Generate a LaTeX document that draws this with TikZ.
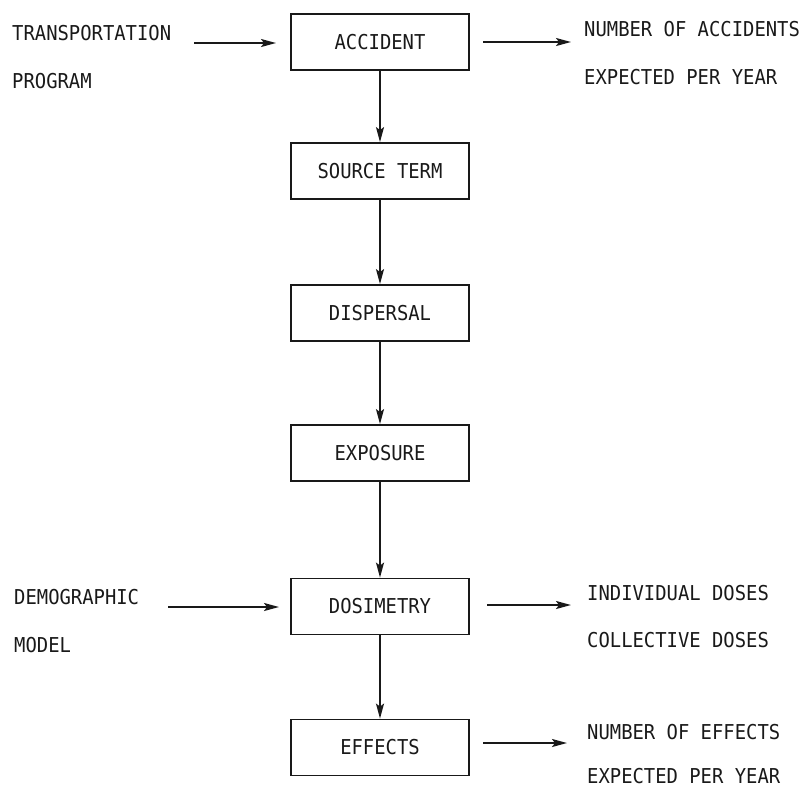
\documentclass[tikz,border=0pt]{standalone}
\usepackage{fontspec}
\newfontfamily\plotfont[FakeStretch=0.92]{DejaVu Sans Mono}
\usetikzlibrary{arrows.meta}
\definecolor{ink}{gray}{0.1}
\tikzset{
  box/.style={draw=ink, line width=1.8pt, minimum width=178pt, minimum height=56pt, inner sep=0pt, text=ink, font=\plotfont\fontsize{20.5}{20.5}\selectfont},
  lbl/.style={anchor=west, inner sep=0pt, text=ink, font=\plotfont\fontsize{20.5}{20.5}\selectfont},
  flow/.style={draw=ink, line width=1.7pt, -{Stealth[length=15pt,width=8pt,inset=3pt]}}
}
\begin{document}
\begin{tikzpicture}[x=1pt,y=-1pt]
\useasboundingbox (0,0) rectangle (806,788);
% boxes
\node[box] (acc) at (380,42) {ACCIDENT};
\node[box] (src) at (380,171) {SOURCE TERM};
\node[box] (dis) at (380,313) {DISPERSAL};
\node[box] (exp) at (380,453) {EXPOSURE};
\node[box] (dos) at (380,606.5) {DOSIMETRY};
\node[box] (eff) at (380,747.5) {EFFECTS};
% vertical flow
\draw[flow] (acc) -- (src);
\draw[flow] (src) -- (dis);
\draw[flow] (dis) -- (exp);
\draw[flow] (exp) -- (dos);
\draw[flow] (dos) -- (eff);
% side labels
\node[lbl] (tp1) at (12,33) {TRANSPORTATION};
\node[lbl] (tp2) at (12,81) {PROGRAM};
\node[lbl] (na1) at (584,29) {NUMBER OF ACCIDENTS};
\node[lbl] (na2) at (584,77) {EXPECTED PER YEAR};
\node[lbl] (dm1) at (14,597) {DEMOGRAPHIC};
\node[lbl] (dm2) at (14,645) {MODEL};
\node[lbl] (id1) at (587,593) {INDIVIDUAL DOSES};
\node[lbl] (id2) at (587,640) {COLLECTIVE DOSES};
\node[lbl] (ne1) at (587,732) {NUMBER OF EFFECTS};
\node[lbl] (ne2) at (587,776) {EXPECTED PER YEAR};
% horizontal arrow ends
\coordinate (tpS) at (194,43);
\coordinate (tpE) at (276,43);
\coordinate (naS) at (483,42);
\coordinate (naE) at (571,42);
\coordinate (dmS) at (168,607);
\coordinate (dmE) at (279,607);
\coordinate (idS) at (487,605);
\coordinate (idE) at (571,605);
\coordinate (neS) at (483,743);
\coordinate (neE) at (567,743);
\draw[flow] (tpS) -- (tpE);
\draw[flow] (naS) -- (naE);
\draw[flow] (dmS) -- (dmE);
\draw[flow] (idS) -- (idE);
\draw[flow] (neS) -- (neE);
\end{tikzpicture}
\end{document}
